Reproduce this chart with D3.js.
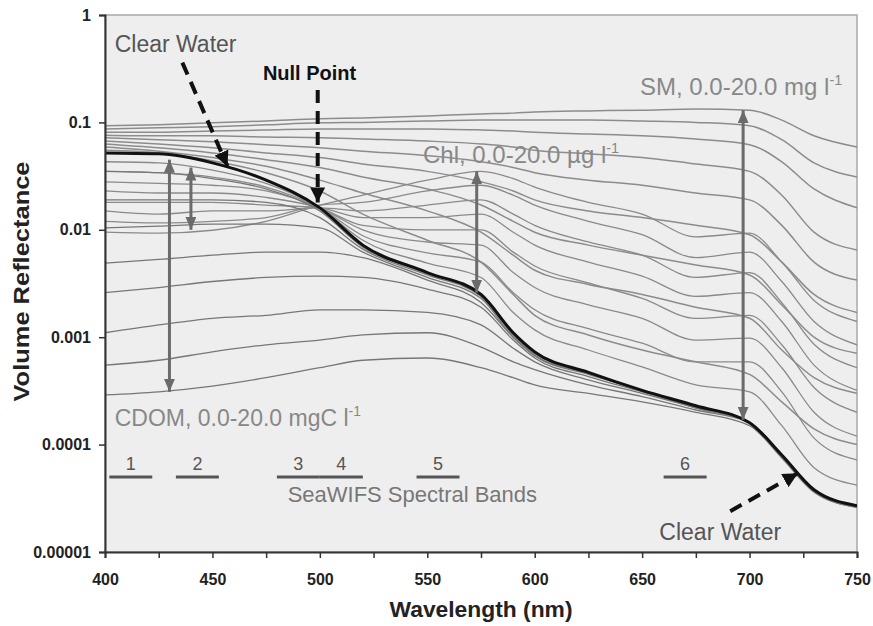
<!DOCTYPE html>
<html>
<head>
<meta charset="utf-8">
<script src="https://cdn.jsdelivr.net/npm/d3@7"></script>
<style>
  body { margin: 0; background: #fff; }
  text { font-family: 'Liberation Sans', Arial, sans-serif; }
</style>
</head>
<body>
<svg id="chart" width="873" height="626"></svg>
<script>
// wavelength grid (nm) shared by all curves
const wavelengths = [400, 425, 450, 475, 500, 520, 550, 575, 590, 600, 625, 650, 675, 700, 715, 730, 750];

// pure water volume reflectance
const clearWater = [0.052, 0.051, 0.042, 0.029, 0.016, 0.0072, 0.0040, 0.0025, 0.0011, 0.00073, 0.00047, 0.00032, 0.00023, 0.00016, 0.00008, 0.000038, 0.000027];

// suspended matter, 20 mg/l down to low
const smCurves = [
  [0.093, 0.095, 0.099, 0.103, 0.108, 0.110, 0.115, 0.120, 0.122, 0.125, 0.128, 0.130, 0.133, 0.130, 0.105, 0.075, 0.059],
  [0.087, 0.089, 0.091, 0.095, 0.099, 0.10, 0.103, 0.105, 0.105, 0.105, 0.105, 0.103, 0.10, 0.093, 0.069, 0.042, 0.031],
  [0.081, 0.081, 0.083, 0.085, 0.087, 0.087, 0.087, 0.085, 0.083, 0.081, 0.078, 0.075, 0.070, 0.062, 0.043, 0.024, 0.016],
  [0.076, 0.075, 0.075, 0.073, 0.072, 0.070, 0.067, 0.063, 0.059, 0.055, 0.051, 0.047, 0.041, 0.035, 0.021, 0.0095, 0.0065],
  [0.072, 0.069, 0.066, 0.062, 0.058, 0.054, 0.049, 0.043, 0.038, 0.034, 0.029, 0.026, 0.022, 0.019, 0.011, 0.0050, 0.0034],
  [0.067, 0.063, 0.058, 0.052, 0.047, 0.041, 0.035, 0.028, 0.023, 0.019, 0.015, 0.013, 0.011, 0.0090, 0.0050, 0.0025, 0.0017],
  [0.063, 0.058, 0.052, 0.045, 0.038, 0.031, 0.024, 0.017, 0.012, 0.0095, 0.0072, 0.0058, 0.0047, 0.0038, 0.0020, 0.0010, 0.00071],
  [0.059, 0.054, 0.047, 0.039, 0.029, 0.022, 0.015, 0.0095, 0.0058, 0.0042, 0.0031, 0.0025, 0.0019, 0.0015, 0.00076, 0.00042, 0.00030],
  [0.055, 0.052, 0.044, 0.034, 0.023, 0.014, 0.0080, 0.0050, 0.0025, 0.0016, 0.00105, 0.00076, 0.00059, 0.00045, 0.00025, 0.00014, 0.00010]
];

// chlorophyll, 20 ug/l down to low
const chlCurves = [
  [0.0095, 0.0093, 0.0099, 0.012, 0.017, 0.021, 0.029, 0.035, 0.030, 0.025, 0.018, 0.014, 0.0086, 0.0093, 0.0050, 0.0022, 0.0014],
  [0.012, 0.0116, 0.012, 0.013, 0.017, 0.018, 0.023, 0.026, 0.021, 0.017, 0.012, 0.0090, 0.0055, 0.0062, 0.0033, 0.0014, 0.00085],
  [0.015, 0.014, 0.015, 0.015, 0.016, 0.015, 0.017, 0.019, 0.014, 0.011, 0.0077, 0.0058, 0.0036, 0.0040, 0.0021, 0.00086, 0.00052],
  [0.018, 0.018, 0.018, 0.017, 0.016, 0.013, 0.013, 0.014, 0.0095, 0.0072, 0.0050, 0.0037, 0.0024, 0.0026, 0.0014, 0.00055, 0.00032],
  [0.023, 0.022, 0.022, 0.020, 0.016, 0.011, 0.010, 0.010, 0.0062, 0.0046, 0.0032, 0.0023, 0.0015, 0.0016, 0.00085, 0.00034, 0.00020],
  [0.028, 0.027, 0.026, 0.023, 0.016, 0.010, 0.0077, 0.0072, 0.0040, 0.0029, 0.0020, 0.0015, 0.00094, 0.00098, 0.00052, 0.00020, 0.00012],
  [0.035, 0.034, 0.031, 0.025, 0.016, 0.0088, 0.0061, 0.0050, 0.0026, 0.0018, 0.0012, 0.00088, 0.00059, 0.00059, 0.00031, 0.000115, 0.000072],
  [0.043, 0.042, 0.036, 0.027, 0.016, 0.0080, 0.0049, 0.0036, 0.0017, 0.00117, 0.00076, 0.00053, 0.00036, 0.00031, 0.00015, 0.000061, 0.000042]
];

// CDOM, 20 mgC/l up to low
const cdomCurves = [
  [0.00029, 0.00031, 0.00035, 0.00042, 0.00052, 0.00061, 0.00064, 0.00052, 0.00042, 0.00036, 0.00030, 0.00025, 0.00020, 0.00015, 0.000075, 0.000036, 0.000026],
  [0.00055, 0.00061, 0.00073, 0.00085, 0.00094, 0.00105, 0.0011, 0.00081, 0.00059, 0.00050, 0.00036, 0.00028, 0.00021, 0.00016, 0.000077, 0.000037, 0.000026],
  [0.0011, 0.0013, 0.0015, 0.0016, 0.0018, 0.0018, 0.0017, 0.0013, 0.00079, 0.00059, 0.00040, 0.00030, 0.00022, 0.00016, 0.000078, 0.000037, 0.000027],
  [0.0026, 0.0029, 0.0033, 0.0036, 0.0037, 0.0036, 0.0028, 0.0019, 0.00094, 0.00064, 0.00043, 0.00031, 0.00022, 0.00016, 0.000078, 0.000038, 0.000027],
  [0.0049, 0.0053, 0.0058, 0.0062, 0.0062, 0.0055, 0.0034, 0.0021, 0.0010, 0.00067, 0.00045, 0.00032, 0.00022, 0.00016, 0.00008, 0.000038, 0.000027],
  [0.0104, 0.0108, 0.0113, 0.0113, 0.0104, 0.0062, 0.0036, 0.0023, 0.0010, 0.00068, 0.00046, 0.00032, 0.00023, 0.00016, 0.00008, 0.000038, 0.000027],
  [0.019, 0.019, 0.019, 0.018, 0.013, 0.0066, 0.0038, 0.0024, 0.00105, 0.00070, 0.00047, 0.00032, 0.00023, 0.00016, 0.00008, 0.000038, 0.000027],
  [0.035, 0.034, 0.030, 0.024, 0.015, 0.0069, 0.0040, 0.0024, 0.00107, 0.00071, 0.00047, 0.00032, 0.00023, 0.00016, 0.00008, 0.000038, 0.000027]
];

const xTicks = [400, 425, 450, 475, 500, 525, 550, 575, 600, 625, 650, 675, 700, 725, 750];
const yTicks = [0.00001, 0.0001, 0.001, 0.01, 0.1, 1];
const yTickLabels = ['0.00001', '0.0001', '0.001', '0.01', '0.1', '1'];

// SeaWiFS bands (nm)
const bands = [
  { name: '1', from: 402, to: 422 },
  { name: '2', from: 433, to: 453 },
  { name: '3', from: 480, to: 500 },
  { name: '4', from: 500, to: 520 },
  { name: '5', from: 545, to: 565 },
  { name: '6', from: 660, to: 680 }
];

// range arrows [nm, top value, bottom value]
const rangeArrows = [
  [430, 0.045, 0.00031],
  [440, 0.038, 0.010],
  [573, 0.035, 0.0026],
  [697, 0.13, 0.00017]
];

// dashed pointer arrows [nm0, v0, nm1, v1]
const pointers = [
  [436, 0.36, 457, 0.039],
  [499, 0.20, 499, 0.018],
  [691, 0.000024, 722.5, 0.000054]
];

const svg = d3.select('#chart');
const width = 873, height = 626;
const margin = { top: 15, right: 16, bottom: 74, left: 105 };

const x = d3.scaleLinear().domain([400, 750]).range([margin.left, width - margin.right]);
const y = d3.scaleLog().domain([0.00001, 1]).range([height - margin.bottom, margin.top]);

const defs = svg.append('defs');
defs.append('clipPath').attr('id', 'plot')
  .append('rect')
  .attr('x', x(400)).attr('y', y(1))
  .attr('width', x(750) - x(400)).attr('height', y(0.00001) - y(1));

function marker(id, color, w, l) {
  defs.append('marker')
    .attr('id', id)
    .attr('viewBox', `0 0 ${l} ${w}`)
    .attr('refX', l).attr('refY', w / 2)
    .attr('markerWidth', l).attr('markerHeight', w)
    .attr('markerUnits', 'userSpaceOnUse')
    .attr('orient', 'auto-start-reverse')
    .append('path')
    .attr('d', `M0,0L${l},${w / 2}L0,${w}Z`)
    .attr('fill', color);
}
marker('grayHead', '#6b6b6b', 11, 13);
marker('blackHead', '#111', 15, 15);

// plot background
svg.append('rect')
  .attr('x', x(400)).attr('y', y(1))
  .attr('width', x(750) - x(400)).attr('height', y(0.00001) - y(1))
  .attr('fill', '#eeeeee')
  .attr('stroke', '#a8a8a8')
  .attr('stroke-width', 1.5);

const line = d3.line()
  .x((d, i) => x(wavelengths[i]))
  .y(d => y(d))
  .curve(d3.curveMonotoneX);

const curves = svg.append('g').attr('clip-path', 'url(#plot)');

curves.selectAll('.sm').data(smCurves).join('path')
  .attr('d', line).attr('fill', 'none')
  .attr('stroke', '#8c8c8c').attr('stroke-width', 1.5);

curves.selectAll('.chl').data(chlCurves).join('path')
  .attr('d', line).attr('fill', 'none')
  .attr('stroke', '#8a8a8a').attr('stroke-width', 1.3);

curves.selectAll('.cdom').data(cdomCurves).join('path')
  .attr('d', line).attr('fill', 'none')
  .attr('stroke', '#777').attr('stroke-width', 1.3);

curves.append('path')
  .attr('d', line(clearWater)).attr('fill', 'none')
  .attr('stroke', '#111').attr('stroke-width', 3);

// range arrows
svg.selectAll('.range').data(rangeArrows).join('line')
  .attr('x1', d => x(d[0])).attr('x2', d => x(d[0]))
  .attr('y1', d => y(d[1])).attr('y2', d => y(d[2]))
  .attr('stroke', '#6b6b6b').attr('stroke-width', 3)
  .attr('marker-start', 'url(#grayHead)')
  .attr('marker-end', 'url(#grayHead)');

// dashed pointers
svg.selectAll('.ptr').data(pointers).join('line')
  .attr('x1', d => x(d[0])).attr('y1', d => y(d[1]))
  .attr('x2', d => x(d[2])).attr('y2', d => y(d[3]))
  .attr('stroke', '#111').attr('stroke-width', 4)
  .attr('stroke-dasharray', '13,8')
  .attr('marker-end', 'url(#blackHead)');

// SeaWiFS bands
const bandBarY = y(0.00005);
svg.selectAll('.band').data(bands).join('line')
  .attr('x1', d => x(d.from))
  .attr('x2', d => x(d.to))
  .attr('y1', bandBarY).attr('y2', bandBarY)
  .attr('stroke', '#555').attr('stroke-width', 3);
svg.selectAll('.bandLabel').data(bands).join('text')
  .attr('x', d => x((d.from + d.to) / 2))
  .attr('y', bandBarY - 7)
  .attr('text-anchor', 'middle')
  .attr('font-size', 18)
  .attr('fill', '#555')
  .text(d => d.name);

// axes
const yAxis = svg.append('g')
  .attr('transform', `translate(${x(400)},0)`)
  .call(d3.axisLeft(y).tickValues(yTicks).tickFormat((d, i) => yTickLabels[i]).tickSize(6).tickPadding(8));
const xAxis = svg.append('g')
  .attr('transform', `translate(0,${y(0.00001)})`)
  .call(d3.axisBottom(x).tickValues(xTicks).tickFormat(d => d % 50 === 0 ? d : '').tickSize(6).tickPadding(16));

[yAxis, xAxis].forEach(g => {
  g.select('.domain').attr('stroke', '#333').attr('stroke-width', 2);
  g.selectAll('.tick line').attr('stroke', '#333').attr('stroke-width', 1.5);
  g.selectAll('.tick text')
    .attr('font-family', "'Liberation Sans', Arial, sans-serif")
    .attr('font-size', 16).attr('font-weight', 'bold').attr('fill', '#222');
});

svg.append('text')
  .attr('transform', `translate(29,${(y(1) + y(0.00001)) / 2 - 2}) rotate(-90)`)
  .attr('text-anchor', 'middle')
  .attr('font-size', 22).attr('font-weight', 'bold').attr('fill', '#222')
  .attr('textLength', 240).attr('lengthAdjust', 'spacingAndGlyphs')
  .text('Volume Reflectance');

svg.append('text')
  .attr('x', (x(400) + x(750)) / 2).attr('y', 617)
  .attr('text-anchor', 'middle')
  .attr('font-size', 22).attr('font-weight', 'bold').attr('fill', '#222')
  .attr('textLength', 183).attr('lengthAdjust', 'spacingAndGlyphs')
  .text('Wavelength (nm)');

// annotation text
function note(nm, v, txt, sup, size, color, weight) {
  const t = svg.append('text')
    .attr('x', x(nm)).attr('y', y(v))
    .attr('font-size', size).attr('fill', color)
    .attr('font-weight', weight || 'normal')
    .text(txt);
  if (sup) {
    t.append('tspan').attr('dy', -10).attr('font-size', size * 0.6).text(sup);
  }
  return t;
}
note(404.5, 0.45, 'Clear Water', null, 23, '#555');
note(473.5, 0.25, 'Null Point', null, 20, '#111', 'bold');
note(649, 0.18, 'SM, 0.0-20.0 mg l', '-1', 24, '#888');
note(548, 0.042, 'Chl, 0.0-20.0 \u00b5g l', '-1', 24, '#888');
note(404.5, 0.00015, 'CDOM, 0.0-20.0 mgC l', '-1', 23, '#888');
note(485, 0.000029, 'SeaWIFS Spectral Bands', null, 22, '#777');
note(658, 0.000013, 'Clear Water', null, 23, '#555');
</script>
</body>
</html>
